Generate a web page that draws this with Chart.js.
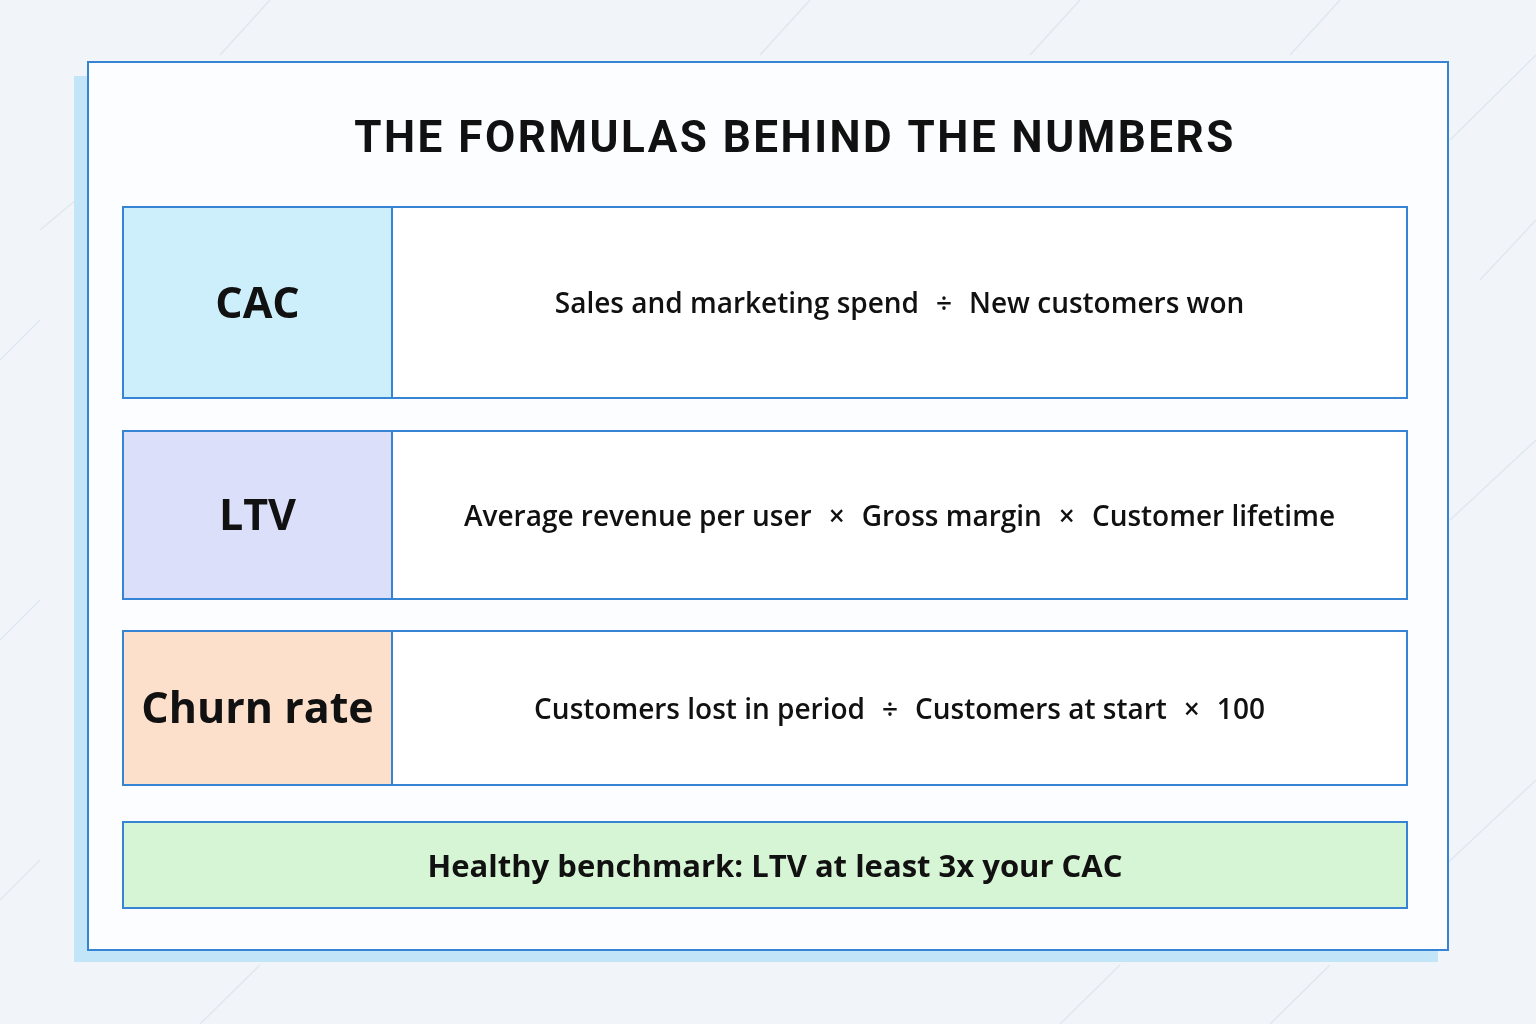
<!DOCTYPE html>
<html><head><meta charset="utf-8">
<script src="https://cdn.jsdelivr.net/npm/chart.js@4/dist/chart.umd.min.js"></script>
<style>html,body{margin:0;padding:0;background:#f1f5fa;}#wrap{width:1536px;height:1024px;}</style>
</head><body><div id="wrap"><canvas id="c" width="1536" height="1024"></canvas></div>
<script>
const title = "THE FORMULAS BEHIND THE NUMBERS";
const metrics = ["CAC", "LTV", "Churn rate"];
const formulas = [
  ["Sales and marketing spend", "÷", "New customers won"],
  ["Average revenue per user", "×", "Gross margin", "×", "Customer lifetime"],
  ["Customers lost in period", "÷", "Customers at start", "×", "100"]
];
const benchmark = "Healthy benchmark: LTV at least 3x your CAC";
const metricColors = ["#cdeefb", "#dcdffa", "#fde0cc"];

// layout (page units mapped through scales)
const rowsY = [[207,398],[431,599],[631,785]];
const bannerY = [822,908];
const boxX = [123,392,1407];

const plugin = {
  id:'infographic',
  beforeDraw(chart){
    const ctx=chart.ctx, xs=chart.scales.x, ys=chart.scales.y;
    const X=v=>xs.getPixelForValue(v), Y=v=>ys.getPixelForValue(v);
    ctx.save();
    ctx.fillStyle="#f1f5fa"; ctx.fillRect(0,0,1536,1024);
    ctx.strokeStyle="#dfe7f0"; ctx.lineWidth=1.5;
    const lines=[[220,55,270,0],[760,55,810,0],[1030,55,1080,0],[1290,55,1340,0],[1450,140,1536,55],[1450,520,1536,440],[1480,280,1536,220],[0,360,40,320],[0,640,40,600],[0,900,40,860],[200,1024,260,965],[1060,1024,1120,965],[1270,1024,1330,965],[1440,870,1536,780],[40,230,88,190]];
    lines.forEach(l=>{ctx.beginPath();ctx.moveTo(l[0],l[1]);ctx.lineTo(l[2],l[3]);ctx.stroke();});
    ctx.fillStyle="#c2e6f8"; ctx.fillRect(X(74),Y(76),X(1438)-X(74),Y(962)-Y(76));
    ctx.fillStyle="#fbfdff"; ctx.fillRect(X(88),Y(62),X(1448)-X(88),Y(950)-Y(62));
    ctx.strokeStyle="#3585d4"; ctx.lineWidth=2;
    ctx.strokeRect(X(88),Y(62),X(1448)-X(88),Y(950)-Y(62));
    ctx.fillStyle="#111"; ctx.textAlign="center"; ctx.textBaseline="middle";
    ctx.font="bold 44px Roboto, sans-serif";
    if('letterSpacing' in ctx) ctx.letterSpacing="2.5px";
    ctx.fillText(title, X(795), Y(141));
    if('letterSpacing' in ctx) ctx.letterSpacing="0px";
    metrics.forEach((m,i)=>{
      const [y0,y1]=rowsY[i];
      ctx.fillStyle=metricColors[i]; ctx.fillRect(X(boxX[0]),Y(y0),X(boxX[1])-X(boxX[0]),Y(y1)-Y(y0));
      ctx.fillStyle="#ffffff"; ctx.fillRect(X(boxX[1]),Y(y0),X(boxX[2])-X(boxX[1]),Y(y1)-Y(y0));
      ctx.strokeStyle="#3585d4"; ctx.lineWidth=2;
      ctx.strokeRect(X(boxX[0]),Y(y0),X(boxX[2])-X(boxX[0]),Y(y1)-Y(y0));
      ctx.beginPath(); ctx.moveTo(X(boxX[1]),Y(y0)); ctx.lineTo(X(boxX[1]),Y(y1)); ctx.stroke();
      ctx.fillStyle="#111"; ctx.font="bold 43px 'Open Sans', sans-serif"; ctx.textAlign="center";
      ctx.fillText(m, (X(boxX[0])+X(boxX[1]))/2, (Y(y0)+Y(y1))/2+3);
      ctx.font="600 28px 'Open Sans', sans-serif";
      const gap=17;
      const parts=formulas[i];
      const widths=parts.map(p=>ctx.measureText(p).width);
      const total=widths.reduce((a,b)=>a+b,0)+gap*(parts.length-1);
      let x=(X(boxX[1])+X(boxX[2]))/2 - total/2;
      ctx.textAlign="left";
      parts.forEach((p,k)=>{ctx.fillText(p,x,(Y(y0)+Y(y1))/2+3); x+=widths[k]+gap;});
    });
    ctx.fillStyle="#d6f5d5"; ctx.fillRect(X(boxX[0]),Y(bannerY[0]),X(boxX[2])-X(boxX[0]),Y(bannerY[1])-Y(bannerY[0]));
    ctx.strokeStyle="#3585d4"; ctx.strokeRect(X(boxX[0]),Y(bannerY[0]),X(boxX[2])-X(boxX[0]),Y(bannerY[1])-Y(bannerY[0]));
    ctx.fillStyle="#111"; ctx.font="bold 31px 'Open Sans', sans-serif"; ctx.textAlign="center";
    ctx.fillText(benchmark,(X(boxX[0])+X(boxX[2]))/2+10,(Y(bannerY[0])+Y(bannerY[1]))/2+3);
    ctx.restore();
  }
};
new Chart(document.getElementById('c'),{
  type:'scatter',
  data:{datasets:[{data:[]}]},
  options:{responsive:false,animation:false,events:[],
    layout:{padding:0},
    plugins:{legend:{display:false},tooltip:{enabled:false}},
    scales:{x:{type:'linear',min:0,max:1536,display:false},y:{type:'linear',min:0,max:1024,reverse:true,display:false}}},
  plugins:[plugin]
});
</script></body></html>
